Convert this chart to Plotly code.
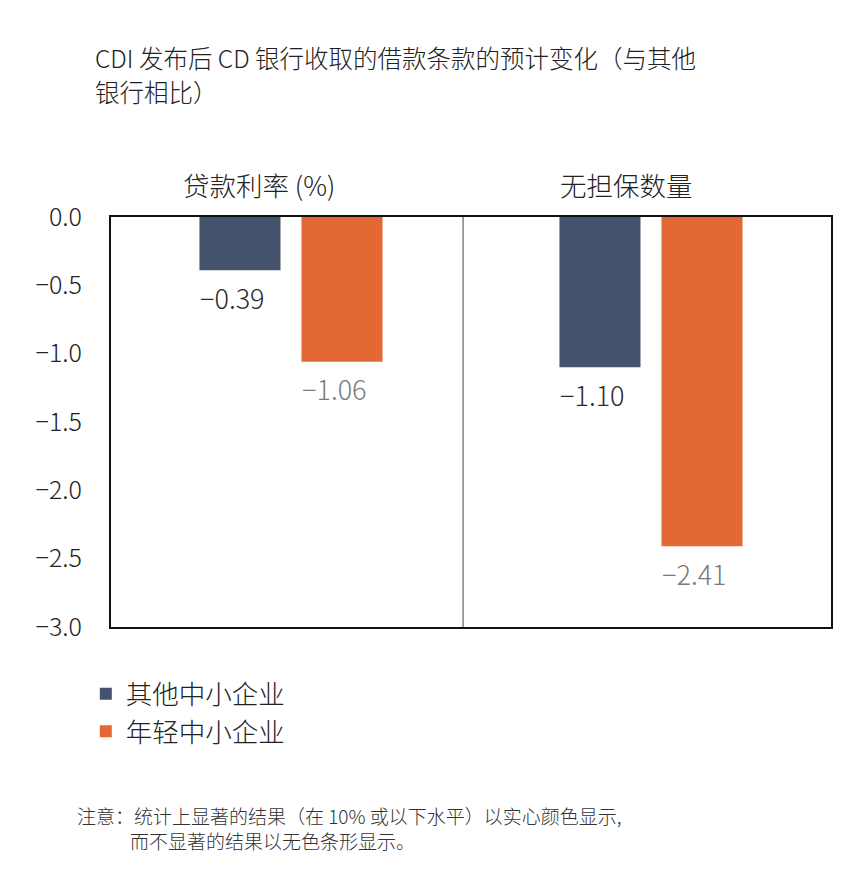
import plotly.graph_objects as go

categories = ["贷款利率 (%)", "无担保数量"]
series_names = ["其他中小企业", "年轻中小企业"]
other_sme = [-0.39, -1.10]
young_sme = [-1.06, -2.41]
y_ticks = [0.0, -0.5, -1.0, -1.5, -2.0, -2.5, -3.0]
y_tick_labels = ["0.0", "−0.5", "−1.0", "−1.5", "−2.0", "−2.5", "−3.0"]

NAVY = "#44536b"
ORANGE = "#e36834"
FONT = "Noto Sans CJK SC"

def fmt(v):
    return f"{v:.2f}".replace("-", "−")

fig = go.Figure()
fig.add_trace(go.Bar(
    x=categories, y=other_sme, name=series_names[0],
    marker=dict(color=NAVY, line=dict(width=0)),
))
fig.add_trace(go.Bar(
    x=categories, y=young_sme, name=series_names[1],
    marker=dict(color=ORANGE, line=dict(width=0)),
))

fig.update_layout(
    width=866, height=892,
    margin=dict(l=111, r=35, t=217, b=265),
    paper_bgcolor="white", plot_bgcolor="white",
    barmode="group", bargap=0.433, bargroupgap=0.206,
    font=dict(family=FONT, size=24, color="#222222", weight=300),
    showlegend=True,
    legend=dict(x=-0.035, y=-0.105, xanchor="left", yanchor="top",
                font=dict(family=FONT, size=26.5, color="#222222", weight=300),
                itemsizing="constant", tracegroupgap=2, bgcolor="rgba(0,0,0,0)"),
)
fig.update_xaxes(showticklabels=False, showgrid=False, zeroline=False,
                 showline=True, linecolor="#111111", linewidth=2, mirror=True,
                 ticks="")
fig.update_yaxes(range=[-3.0, 0.0], tickvals=y_ticks, ticktext=y_tick_labels,
                 showgrid=False, zeroline=False, showline=True,
                 linecolor="#111111", linewidth=2, mirror=True, ticks="",
                 ticklabelstandoff=22,
                 tickfont=dict(family=FONT, size=25, color="#222222", weight=300))

# value labels below bars
for vals, off, col in [(other_sme, -0.163, "#2b2b2b"), (young_sme, 0.121, "#7a7a7a")]:
    for i, v in enumerate(vals):
        fig.add_annotation(text=fmt(v), x=i + off, y=v, xref="x", yref="y",
                           yshift=-27, showarrow=False, xanchor="center", yanchor="middle",
                           font=dict(family=FONT, size=27, color=col, weight=300))

# panel divider
fig.add_shape(type="line", xref="paper", yref="paper", x0=0.489, x1=0.489,
              y0=0, y1=1, line=dict(color="#444444", width=1))

# panel titles
for cat, xc in zip(categories, [0.205, 0.716]):
    fig.add_annotation(text=cat, xref="paper", yref="paper", x=xc, y=1.0,
                       yshift=33, showarrow=False, xanchor="center", yanchor="middle",
                       font=dict(family=FONT, size=26.5, color="#222222", weight=300))

# title (two lines)
for line, ypx in [("CDI 发布后 CD 银行收取的借款条款的预计变化（与其他", 57), ("银行相比）", 92)]:
    fig.add_annotation(text=line, xref="paper", yref="paper", x=(93 - 111) / 720,
                       y=1 + (217 - ypx) / 410,
                       showarrow=False, xanchor="left", yanchor="middle", align="left",
                       font=dict(family=FONT, size=24.5, color="#222222", weight=300))

# note
fig.add_annotation(text="注意：统计上显著的结果（在 10% 或以下水平）以实心颜色显示,",
                   xref="paper", yref="paper", x=(75 - 111) / 720, y=-(815 - 627) / 410,
                   showarrow=False, xanchor="left", yanchor="middle", align="left",
                   font=dict(family=FONT, size=19, color="#333333", weight=300))
fig.add_annotation(text="而不显著的结果以无色条形显示。",
                   xref="paper", yref="paper", x=(128 - 111) / 720, y=-(840 - 627) / 410,
                   showarrow=False, xanchor="left", yanchor="middle", align="left",
                   font=dict(family=FONT, size=19, color="#333333", weight=300))

fig.write_html("out.html")
